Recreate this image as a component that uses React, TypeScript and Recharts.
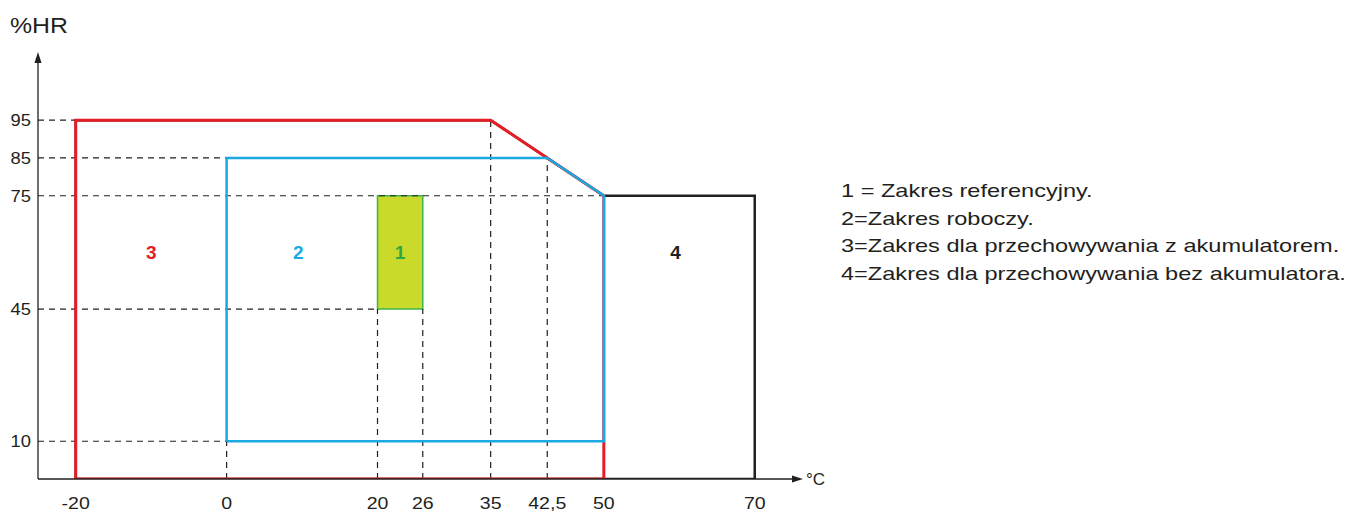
import {
  LineChart,
  Line,
  XAxis,
  YAxis,
  ReferenceLine,
  ReferenceArea,
  ReferenceDot,
} from "recharts";

type PointT = { x: number; y: number };

// Temperature (°C) / relative humidity (%HR) outlines
const zone4: PointT[] = [
  { x: -20, y: 0 },
  { x: -20, y: 95 },
  { x: 35, y: 95 },
  { x: 50, y: 75 },
  { x: 70, y: 75 },
  { x: 70, y: 0 },
  { x: -20, y: 0 },
];
const zone3: PointT[] = [
  { x: -20, y: 0 },
  { x: -20, y: 95 },
  { x: 35, y: 95 },
  { x: 42.5, y: 85 },
  { x: 50, y: 75 },
  { x: 50, y: 0 },
  { x: -20, y: 0 },
];
const zone2: PointT[] = [
  { x: 0, y: 10 },
  { x: 0, y: 85 },
  { x: 42.5, y: 85 },
  { x: 50, y: 75 },
  { x: 50, y: 10 },
  { x: 0, y: 10 },
];
const zone1 = { x1: 20, x2: 26, y1: 45, y2: 75 };

const xTicks = [-20, 0, 20, 26, 35, 42.5, 50, 70];
const yTicks = [10, 45, 75, 85, 95];

// dashed guides: horizontal from the axis to xEnd, vertical from 0 to yEnd
const hGuides = [
  { y: 95, xEnd: -20 },
  { y: 85, xEnd: 0 },
  { y: 75, xEnd: 50 },
  { y: 45, xEnd: 20 },
  { y: 10, xEnd: 0 },
];
const vGuides = [
  { x: 0, yEnd: 10 },
  { x: 20, yEnd: 45 },
  { x: 26, yEnd: 45 },
  { x: 35, yEnd: 95 },
  { x: 42.5, yEnd: 85 },
];

const zoneLabels = [
  { x: -10, y: 60, text: "3", color: "#e41e26" },
  { x: 9.5, y: 60, text: "2", color: "#1ba9e1" },
  { x: 23, y: 60, text: "1", color: "#2fa844" },
  { x: 59.5, y: 60, text: "4", color: "#231f20" },
];

const legendLines = [
  "1 = Zakres referencyjny.",
  "2=Zakres roboczy.",
  "3=Zakres dla przechowywania z akumulatorem.",
  "4=Zakres dla przechowywania bez akumulatora.",
];

const X_MIN = -25;
const X_MAX = 76;
const Y_MAX = 112;

const FONT = '"Liberation Sans", Arial, Helvetica, sans-serif';
const INK = "#231f20";

// tick text, slightly widened like the original artwork
const XTick = (props: any) => {
  const { x, y, payload } = props;
  return (
    <text
      transform={`translate(${x},${y + 9.5}) scale(1.15,1)`}
      textAnchor="middle"
      fontSize={17}
      fill={INK}
      fontFamily={FONT}
    >
      {String(payload.value).replace(".", ",")}
    </text>
  );
};

const YTick = (props: any) => {
  const { x, y, payload } = props;
  return (
    <text
      transform={`translate(${x},${y + 6}) scale(1.08,1)`}
      textAnchor="end"
      fontSize={17}
      fill={INK}
      fontFamily={FONT}
    >
      {payload.value}
    </text>
  );
};

const XArrow = (props: any) => {
  const { cx, cy } = props;
  return (
    <g>
      <polygon
        points={`${cx - 8},${cy - 3.5} ${cx + 3},${cy} ${cx - 8},${cy + 3.5}`}
        fill={INK}
      />
      <text x={cx + 6} y={cy + 6} fontSize={17} fill={INK} fontFamily={FONT}>
        °C
      </text>
    </g>
  );
};

const YArrow = (props: any) => {
  const { cx, cy } = props;
  return (
    <g>
      <polygon
        points={`${cx - 3.5},${cy + 7} ${cx},${cy - 4} ${cx + 3.5},${cy + 7}`}
        fill={INK}
      />
      <text
        transform={`translate(${cx - 28},${cy - 23}) scale(1.13,1)`}
        fontSize={22}
        fill={INK}
        fontFamily={FONT}
      >
        %HR
      </text>
    </g>
  );
};

export default function App() {
  return (
    <div style={{ position: "relative", width: 1342, height: 504, fontFamily: FONT }}>
      <LineChart
        width={900}
        height={504}
        margin={{ top: 48, right: 108, bottom: 0, left: 0 }}
      >
        <XAxis
          type="number"
          dataKey="x"
          domain={[X_MIN, X_MAX]}
          ticks={xTicks}
          allowDataOverflow
          tick={<XTick />}
          tickLine={false}
          tickSize={0}
          tickMargin={20}
          axisLine={{ stroke: INK, strokeWidth: 1.3 }}
          height={33}
        />
        <YAxis
          type="number"
          dataKey="y"
          domain={[0, Y_MAX]}
          ticks={yTicks}
          allowDataOverflow
          tick={<YTick />}
          tickLine={false}
          tickSize={0}
          tickMargin={7}
          axisLine={{ stroke: INK, strokeWidth: 1.3 }}
          width={30}
        />

        {hGuides.map((g) => (
          <ReferenceLine
            key={`h${g.y}`}
            segment={[
              { x: X_MIN, y: g.y },
              { x: g.xEnd, y: g.y },
            ]}
            stroke={INK}
            strokeWidth={1.2}
            strokeDasharray="6 5"
          />
        ))}
        {vGuides.map((g) => (
          <ReferenceLine
            key={`v${g.x}`}
            segment={[
              { x: g.x, y: 0 },
              { x: g.x, y: g.yEnd },
            ]}
            stroke={INK}
            strokeWidth={1.2}
            strokeDasharray="6 5"
          />
        ))}

        <ReferenceArea
          x1={zone1.x1}
          x2={zone1.x2}
          y1={zone1.y1}
          y2={zone1.y2}
          fill="#c9da2b"
          fillOpacity={1}
          stroke="#3cb44b"
          strokeWidth={1.5}
        />

        <Line
          data={zone4}
          dataKey="y"
          type="linear"
          stroke={INK}
          strokeWidth={2.5}
          dot={false}
          activeDot={false}
          isAnimationActive={false}
        />
        <Line
          data={zone3}
          dataKey="y"
          type="linear"
          stroke="#e41e26"
          strokeWidth={3}
          dot={false}
          activeDot={false}
          isAnimationActive={false}
        />
        <Line
          data={zone2}
          dataKey="y"
          type="linear"
          stroke="#1ba9e1"
          strokeWidth={2.5}
          dot={false}
          activeDot={false}
          isAnimationActive={false}
        />

        {zoneLabels.map((z) => (
          <ReferenceDot
            key={z.text}
            x={z.x}
            y={z.y}
            r={0}
            stroke="none"
            fill="none"
            label={{
              value: z.text,
              position: "center",
              fill: z.color,
              fontSize: 19,
              fontWeight: 700,
              fontFamily: FONT,
            }}
          />
        ))}

        <ReferenceDot x={X_MAX} y={0} r={0} ifOverflow="visible" shape={XArrow} />
        <ReferenceDot x={X_MIN} y={Y_MAX} r={0} ifOverflow="visible" shape={YArrow} />
      </LineChart>

      <div
        style={{
          position: "absolute",
          left: 833,
          top: 169,
          color: INK,
          fontSize: 19,
          transform: "scaleX(1.24)",
          transformOrigin: "left top",
        }}
      >
        {legendLines.map((t) => (
          <div key={t} style={{ lineHeight: "27.5px", whiteSpace: "nowrap" }}>
            {t}
          </div>
        ))}
      </div>
    </div>
  );
}
